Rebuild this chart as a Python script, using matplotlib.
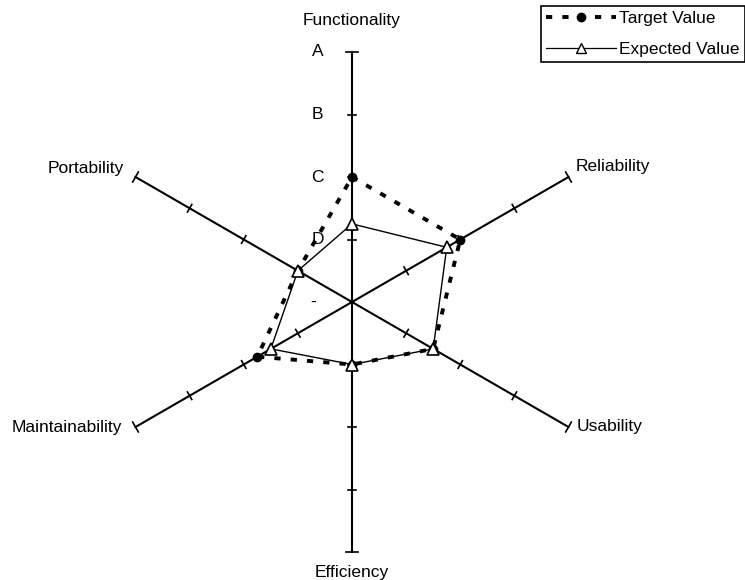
import numpy as np
import matplotlib.pyplot as plt
from matplotlib.lines import Line2D

plt.rcParams['font.family'] = ['Liberation Sans', 'DejaVu Sans']

categories = ['Functionality', 'Reliability', 'Usability', 'Efficiency',
              'Maintainability', 'Portability']
target = [2.0, 2.0, 1.5, 1.0, 1.75, 1.0]
expected = [1.25, 1.75, 1.5, 1.0, 1.5, 1.0]
levels = [4, 3, 2, 1, 0]
level_labels = ['A', 'B', 'C', 'D', '-']
r_max = 4

angles = np.deg2rad(np.arange(len(categories)) * 60)   # clockwise from north
ux, uy = np.sin(angles), np.cos(angles)


def to_xy(vals):
    vals = np.asarray(vals)
    x = vals * ux
    y = vals * uy
    return np.append(x, x[0]), np.append(y, y[0])


fig = plt.figure(figsize=(7.45, 5.8), dpi=100)
ax = fig.add_axes([0, 0, 1, 1])
ax.set_xlim(-352 / 62.5, 393 / 62.5)
ax.set_ylim(-278 / 62.5, 302 / 62.5)
ax.axis('off')

# spokes with small perpendicular ticks
tick_half = 0.07
for i in range(len(categories)):
    ax.plot([0, r_max * ux[i]], [0, r_max * uy[i]], color='black', lw=1.5,
            zorder=2)
    px, py = -uy[i], ux[i]
    for r in range(1, r_max + 1):
        h = tick_half * (1.3 if r == r_max else 1.0)
        cx, cy = r * ux[i], r * uy[i]
        ax.plot([cx - h * px, cx + h * px], [cy - h * py, cy + h * py],
                color='black', lw=1.2, zorder=2)

# axis labels (offsets in pixels)
offsets = [(0, 32), (7, 10), (8, 0), (0, -20), (-13, 0), (-12, 9)]
aligns = ['center', 'left', 'left', 'center', 'right', 'right']
for i, name in enumerate(categories):
    ax.annotate(name, (r_max * ux[i], r_max * uy[i]), xytext=offsets[i],
                textcoords='offset pixels', ha=aligns[i], va='center',
                fontsize=12.5)

# level labels along the Functionality axis
for lv, lab in zip(levels, level_labels):
    xo = -0.55 if lab != '-' else -0.62
    ax.text(xo, lv, lab, ha='center', va='center', fontsize=12.5)

tx, ty = to_xy(target)
ex, ey = to_xy(expected)
ax.plot(tx, ty, color='black', lw=2.8, ls=(0, (1.6, 2.6)), zorder=3)
ax.plot(tx[:-1], ty[:-1], ls='none', marker='o', ms=6, color='black', zorder=3)
ax.plot(ex, ey, color='black', lw=1.0, zorder=4)
ax.plot(ex[:-1], ey[:-1], ls='none', marker='^', ms=9, mfc='white',
        mec='black', mew=1.2, zorder=5)

handles = [
    Line2D([], [], color='black', lw=2.8, ls=(0, (1.6, 2.6)), marker='o', ms=6),
    Line2D([], [], color='black', lw=0.9, marker='^', ms=7, mfc='white',
           mec='black'),
]
leg = ax.legend(handles, ['Target Value', 'Expected Value'],
                loc='upper right', bbox_to_anchor=(1.0, 0.99),
                fontsize=12.5, handlelength=4.0, numpoints=1,
                fancybox=False, edgecolor='black', framealpha=1,
                borderpad=0.3, borderaxespad=0.0, labelspacing=0.9,
                handletextpad=0.2)
leg.get_frame().set_linewidth(1.2)

fig.savefig('out.png', dpi=100)
